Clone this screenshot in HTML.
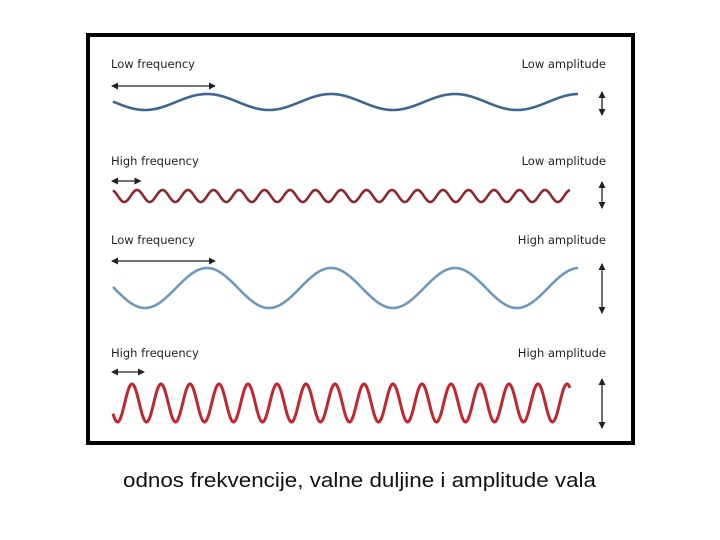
<!DOCTYPE html>
<html><head><meta charset="utf-8"><style>
body{margin:0;background:#fff;}
svg{display:block}
text{font-family:"DejaVu Sans","Liberation Sans",sans-serif;}
</style></head><body>
<svg width="720" height="540">
<defs>
<marker id="ah" markerWidth="7" markerHeight="7" refX="6" refY="3.5" orient="auto-start-reverse" markerUnits="userSpaceOnUse"><path d="M0,0 L7,3.5 L0,7 Z" fill="#222"/></marker>
</defs>
<rect x="88" y="35" width="545" height="408" fill="#fff" stroke="#000" stroke-width="4"/>
<g id="g"></g>
<text x="123" y="487" font-size="20" textLength="473" lengthAdjust="spacingAndGlyphs" fill="#111" style="font-family:'Liberation Sans',sans-serif">odnos frekvencije, valne duljine  i amplitude vala</text>
</svg>
<script>
const names=["low-freq-low-amp","high-freq-low-amp","low-freq-high-amp","high-freq-high-amp"];
const leftLabels=["Low frequency","High frequency","Low frequency","High frequency"];
const rightLabels=["Low amplitude","Low amplitude","High amplitude","High amplitude"];
const periods=[124,25.5,124,29];
const amplitudes=[8,6,20,19];
const centers=[102,196,288,403];
const peakX=[207,137,207,190];
const endX=[578,570,578,570];
const colors=["#3f6590","#8b2a2e","#6d98c2","#c3262d"];
const labelY=[68,165,244,357];
const arrowY=[86,181,261,372];
const vArrow=[[92,115],[182,208],[264,313],[379,428]];
const ns="http://www.w3.org/2000/svg";
const g=document.getElementById("g");
function mk(t,a){const e=document.createElementNS(ns,t);for(const k in a)e.setAttribute(k,a[k]);g.appendChild(e);return e;}
for(let i=0;i<4;i++){
  let d="";
  for(let x=113;x<=endX[i];x+=0.5){
    const y=centers[i]-amplitudes[i]*Math.cos(2*Math.PI*(x-peakX[i])/periods[i]);
    d+=(x===113?"M":"L")+x.toFixed(1)+","+y.toFixed(2);
  }
  const p=mk("path",{d:d,fill:"none",stroke:colors[i],"stroke-width":i==3?3:2.6,"stroke-linejoin":"round"});
  
  
  const l=mk("text",{x:111,y:labelY[i],"font-size":11.5,fill:"#222"});l.textContent=leftLabels[i];
  
  
  const r=mk("text",{x:606,y:labelY[i],"font-size":11.5,fill:"#222","text-anchor":"end"});r.textContent=rightLabels[i];
  
  
  const ha=mk("line",{x1:112,y1:arrowY[i],x2:112+(i%2?periods[i]+3:periods[i]*0.83),y2:arrowY[i],stroke:"#222","stroke-width":1.3,"marker-start":"url(#ah)","marker-end":"url(#ah)"});
  
  
  const va=mk("line",{x1:602,y1:vArrow[i][0],x2:602,y2:vArrow[i][1],stroke:"#222","stroke-width":1.3,"marker-start":"url(#ah)","marker-end":"url(#ah)"});
  
  
}
</script>
</body></html>
